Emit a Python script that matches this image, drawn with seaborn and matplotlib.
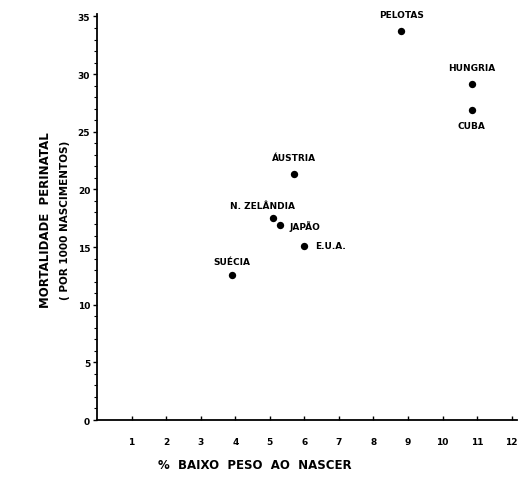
import matplotlib
matplotlib.use("Agg")
import matplotlib.pyplot as plt
import seaborn as sns
import pandas as pd
from matplotlib.ticker import MultipleLocator

countries = ["PELOTAS", "HUNGRIA", "CUBA", "ÁUSTRIA", "N. ZELÂNDIA", "JAPÃO", "E.U.A.", "SUÉCIA"]
low_birth_weight = [8.8, 10.85, 10.85, 5.7, 5.1, 5.3, 6.0, 3.9]
perinatal_mortality = [33.7, 29.1, 26.9, 21.3, 17.5, 16.9, 15.1, 12.6]
x_ticks = list(range(1, 13))
y_ticks = [0, 5, 10, 15, 20, 25, 30, 35]

df = pd.DataFrame({"pais": countries, "bpn": low_birth_weight, "mort": perinatal_mortality})

sns.set_style("ticks")
plt.rcParams["font.family"] = ["DejaVu Sans"]
plt.rcParams["text.color"] = "black"
plt.rcParams["xtick.color"] = "black"
plt.rcParams["ytick.color"] = "black"
plt.rcParams["xtick.labelcolor"] = "black"
plt.rcParams["ytick.labelcolor"] = "black"

fig = plt.figure(figsize=(5.22, 4.89), dpi=100)
ax = fig.add_axes([0.186, 0.139, 0.804, 0.83])
sns.scatterplot(data=df, x="bpn", y="mort", ax=ax, color="black", s=28, edgecolor="black", linewidth=0, legend=False)

ax.set_xlim(0, 12.15)
ax.set_ylim(0, 35.2)
ax.set_xticks(x_ticks)
ax.set_yticks(y_ticks)
ax.yaxis.set_minor_locator(MultipleLocator(1))
ax.tick_params(axis="x", direction="in", length=3, width=1, pad=12, labelsize=6.5, colors="black")
ax.tick_params(axis="y", which="major", direction="out", length=3, width=1, pad=2, labelsize=6.5, colors="black")
ax.tick_params(axis="y", which="minor", direction="out", length=2, width=0.8, colors="black")
for lbl in ax.get_xticklabels() + ax.get_yticklabels():
    lbl.set_fontweight("bold")
ax.set_xlabel("")
ax.set_ylabel("")
sns.despine(ax=ax)
for s in ["left", "bottom"]:
    ax.spines[s].set_linewidth(1.3)
    ax.spines[s].set_color("black")

offsets = {
    "PELOTAS": (0, 9, "center", "bottom"),
    "HUNGRIA": (0, 9, "center", "bottom"),
    "CUBA": (0, -8, "center", "top"),
    "ÁUSTRIA": (0, 9, "center", "bottom"),
    "N. ZELÂNDIA": (-8, 6, "center", "bottom"),
    "JAPÃO": (7, 0, "left", "center"),
    "E.U.A.": (8, 0, "left", "center"),
    "SUÉCIA": (0, 6, "center", "bottom"),
}
for c, xv, yv in zip(countries, low_birth_weight, perinatal_mortality):
    dx, dy, ha, va = offsets[c]
    ax.annotate(c, (xv, yv), xytext=(dx, dy), textcoords="offset points",
                ha=ha, va=va, fontsize=6.5, fontweight="bold", color="black")

fig.text(0.488, 0.048, "%  BAIXO  PESO  AO  NASCER", ha="center", va="center",
         fontsize=8.5, fontweight="bold", color="black")
fig.text(0.088, 0.55, "MORTALIDADE  PERINATAL", rotation=90, ha="center", va="center",
         fontsize=8.5, fontweight="bold", color="black")
fig.text(0.125, 0.55, "( POR 1000 NASCIMENTOS)", rotation=90, ha="center", va="center",
         fontsize=7.5, fontweight="bold", color="black")

fig.savefig("out.png", dpi=100, facecolor="white")
